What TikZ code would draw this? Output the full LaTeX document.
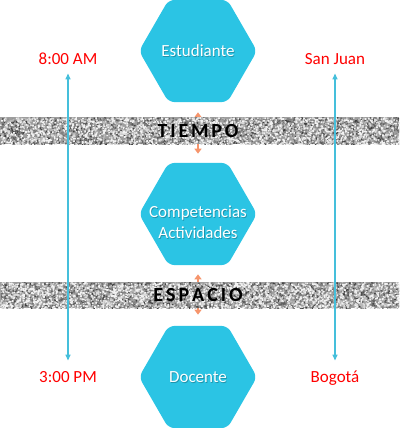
\documentclass[tikz,border=0pt]{standalone}
\usepackage{fontspec}
\setmainfont{Carlito}
\usetikzlibrary{shapes.geometric,arrows.meta}
\definecolor{hexfill}{HTML}{2BC4E4}
\definecolor{timeline}{HTML}{45BFDB}
\definecolor{link}{HTML}{F6956C}
\definecolor{place}{HTML}{FF0000}
\tikzset{
  hexnode/.style={regular polygon, regular polygon sides=6, minimum size=118pt,
    inner sep=0pt, fill=hexfill, rounded corners=6pt},
  hexlabel/.style={text=white, inner sep=0pt, align=center, font=\fontsize{17}{21}\selectfont},
  hexshadow/.style={text=black, opacity=0.25, inner sep=0pt, align=center, font=\fontsize{17}{21}\selectfont},
  tag/.style={text=place, inner sep=0pt, text height=11.5pt, text depth=0pt,
    font=\fontsize{17}{20}\selectfont},
  bandtext/.style={inner sep=0pt, font=\bfseries\fontsize{20}{24}\selectfont},
  linkarrow/.style={draw=link, line width=1.8pt, {Triangle[width=7pt,length=5pt]}-{Triangle[width=7pt,length=5pt]}},
  timearrow/.style={draw=timeline, line width=1.4pt, {Triangle[width=5pt,length=6pt]}-{Triangle[width=5pt,length=6pt]}}
}
% grainy grey strip between heights #1 and #2
\newcommand{\noiseband}[2]{%
  \begin{scope}
    \clip (0,#1) rectangle (399,#2);
    \fill[black!38] (0,#1) rectangle (399,#2);
    \foreach \shade in {black!75,black!62,black!50,black!28,black!15,black!5}{
      \fill[\shade] foreach \i in {1,...,950}{
        ({rnd*399},{#1+rnd*(#2-#1)}) rectangle ++(1.6,1.6)
      };
    }
  \end{scope}}
\begin{document}
\begin{tikzpicture}[x=1pt,y=-1pt]
  \useasboundingbox (0,0) rectangle (399,428);
  \pgfmathsetseed{4217}

  % the three stages
  \node[hexnode] (stud) at (198,51) {};
  \node[hexnode] (comp) at (198,214) {};
  \node[hexnode] (doc)  at (198,377) {};

  % links between the stages, passing under the bands
  \draw[linkarrow, shorten <=10pt, shorten >=9pt] (stud.south) -- (comp.north);
  \draw[linkarrow, shorten <=9pt, shorten >=11pt] (comp.south) -- (doc.north);

  % textured bands
  \noiseband{117}{144}
  \noiseband{282}{308}
  \node[bandtext] (tiempo)  at (198,131) {T\kern2.8pt I\kern2.8pt E\kern2.8pt M\kern2.8pt P\kern2.8pt O};
  \node[bandtext] (espacio) at (198,295.5) {E\kern3pt S\kern3pt P\kern3pt A\kern3pt C\kern3pt I\kern3pt O};

  % hexagon labels with a soft shadow
  \node[hexshadow] at (198.8,51.8) {Estudiante};
  \node[hexlabel] (studlabel) at (198,51) {Estudiante};
  \node[hexshadow] at (198.8,222.8) {Competencias\\Actividades};
  \node[hexlabel] (complabel) at (198,222) {Competencias\\Actividades};
  \node[hexshadow] at (198.8,377.8) {Docente};
  \node[hexlabel] (doclabel) at (198,377) {Docente};

  % time and place markers
  \node[tag] (am)  at (68,58.5)  {8:00 AM};
  \node[tag] (pm)  at (68,376.5) {3:00 PM};
  \node[tag] (sj)  at (335,58.5) {San Juan};
  \node[tag] (bog) at (335,376.5) {Bogotá};

  \draw[timearrow, shorten <=9pt, shorten >=10pt] (am.south) -- (pm.north);
  \draw[timearrow, shorten <=9pt, shorten >=10pt] (sj.south) -- (bog.north);
\end{tikzpicture}
\end{document}
